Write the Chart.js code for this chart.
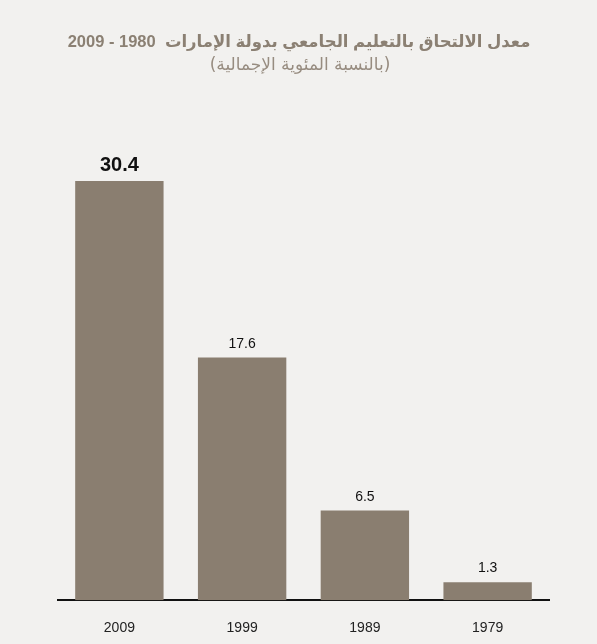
<!DOCTYPE html>
<html>
<head>
<meta charset="utf-8">
<script src="https://cdn.jsdelivr.net/npm/chart.js@4"></script>
<style>
  body { margin: 0; background: #f2f1ef; }
</style>
</head>
<body>
<canvas id="chart" width="597" height="644"></canvas>
<script>
const years = ["2009", "1999", "1989", "1979"];
const enrolment = [30.4, 17.6, 6.5, 1.3];

const titleText = "معدل الالتحاق بالتعليم الجامعي بدولة الإمارات  1980 - 2009";
const subtitleText = "(بالنسبة المئوية الإجمالية)";

// titles drawn at the top, rtl
const headerPlugin = {
    id: "header",
    afterDraw(chart) {
        const ctx = chart.ctx;
        ctx.save();
        ctx.direction = "rtl";
        ctx.textAlign = "center";
        ctx.textBaseline = "middle";
        ctx.fillStyle = "#8b8073";
        ctx.font = "bold 16.5px 'Liberation Sans', 'DejaVu Sans', sans-serif";
        ctx.fillText(titleText, 299, 42);
        ctx.fillStyle = "#978c80";
        ctx.font = "17px 'DejaVu Sans', sans-serif";
        ctx.fillText(subtitleText, 300, 66);
        ctx.restore();
    }
};

// value labels above the bars
const valuePlugin = {
    id: "values",
    afterDatasetsDraw(chart) {
        const ctx = chart.ctx;
        const meta = chart.getDatasetMeta(0);
        ctx.save();
        ctx.textAlign = "center";
        ctx.textBaseline = "alphabetic";
        ctx.fillStyle = "#111";
        meta.data.forEach((bar, i) => {
            if (i === 0)
                ctx.font = "bold 20px 'Liberation Sans', Arial, sans-serif";
            else
                ctx.font = "14px 'Liberation Sans', Arial, sans-serif";
            ctx.fillText(enrolment[i].toFixed(1), bar.x, bar.y - 10);
        });
        ctx.restore();
    }
};

new Chart("chart", {
    type: "bar",
    data: {
        labels: years,
        datasets: [{
            data: enrolment,
            backgroundColor: "#8a7e70",
            categoryPercentage: 0.72,
            barPercentage: 1
        }]
    },
    options: {
        responsive: false,
        animation: false,
        layout: {
            padding: { top: 181, left: 58, right: 48, bottom: -13 }
        },
        plugins: {
            legend: { display: false },
            tooltip: { enabled: false }
        },
        scales: {
            x: {
                grid: { display: false, drawTicks: false },
                border: { display: true, color: "#111", width: 2 },
                ticks: {
                    color: "#222",
                    padding: 20,
                    font: { family: "'Liberation Sans', Arial, sans-serif", size: 14 }
                }
            },
            y: {
                display: false,
                min: 0,
                max: 30.4
            }
        }
    },
    plugins: [headerPlugin, valuePlugin]
});
</script>
</body>
</html>
